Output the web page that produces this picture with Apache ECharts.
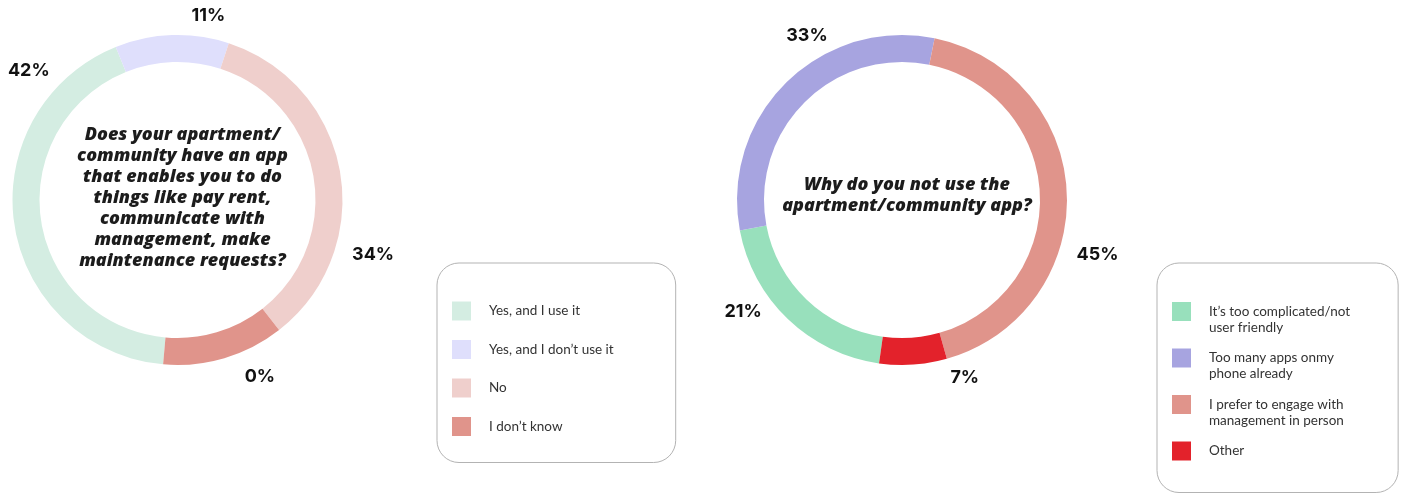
<!DOCTYPE html>
<html>
<head>
<meta charset="utf-8">
<title>Apartment community app survey</title>
<script src="https://cdn.jsdelivr.net/npm/echarts@6/dist/echarts.min.js"></script>
<style>
  html, body { margin: 0; padding: 0; background: #ffffff; }
  #chart { width: 1402px; height: 494px; }
</style>
</head>
<body>
<div id="chart"></div>
<script>
// ---- Survey data ----
const haveAppQuestion = 'Does your apartment/\ncommunity have an app\nthat enables you to do\nthings like pay rent,\ncommunicate with\nmanagement, make\nmaintenance requests?';
const haveAppCategories = ['Yes, and I use it', 'Yes, and I don\u2019t use it', 'No', 'I don\u2019t know'];
const haveAppValues = [42, 11, 34, 0];

const whyNotQuestion = 'Why do you not use the\napartment/community app?';
const whyNotCategories = ['It\u2019s too complicated/not user friendly', 'Too many apps onmy phone already', 'I prefer to engage with management in person', 'Other'];
const whyNotLegendLines = [
  ['It\u2019s too complicated/not', 'user friendly'],
  ['Too many apps onmy', 'phone already'],
  ['I prefer to engage with', 'management in person'],
  ['Other']
];
const whyNotValues = [21, 33, 45, 7];

// ---- Styling ----
const haveAppColors = ['#d4ede2', '#dfdffc', '#efcfcc', '#e0948b'];
const whyNotColors = ['#98e0bc', '#a7a4e0', '#e0948b', '#e3222b'];

const leftCenter = [177.5, 200];
const rightCenter = [902, 200];
const ringRadius = [138, 165];

// label placement around each ring, per data item:
// [angle clockwise from 12 o'clock, distance from centre]
const leftLabelPlacement = [[311, 197], [9.5, 187], [105.5, 203], [155, 195]];
const rightLabelPlacement = [[235, 194], [330, 190], [105.6, 203], [160.5, 188]];

const chart = echarts.init(document.getElementById('chart'), null, { renderer: 'canvas' });

function placeLabels(center, placement) {
  return function (params) {
    const p = placement[params.dataIndex];
    const a = p[0] * Math.PI / 180;
    return {
      x: center[0] + p[1] * Math.sin(a),
      y: center[1] - p[1] * Math.cos(a),
      align: 'center',
      verticalAlign: 'middle'
    };
  };
}

// legend text: the first line sits level with the swatch, the rest hang below it
function hangingLegendText(name) {
  const lines = whyNotLegendLines[whyNotCategories.indexOf(name)];
  return '\n' + lines.join('\n') + (lines.length === 1 ? '\n' : '');
}

const pctLabel = {
  show: true,
  position: 'outside',
  formatter: '{c}%',
  fontFamily: 'Inter',
  fontWeight: 700,
  fontSize: 18,
  color: '#111111'
};

const questionStyle = {
  fontFamily: 'Open Sans',
  fontStyle: 'italic',
  fontWeight: 800,
  fontSize: 18,
  lineHeight: 21,
  color: '#1c1c1c'
};

const legendBase = {
  orient: 'vertical',
  icon: 'rect',
  itemWidth: 19,
  itemHeight: 19,
  selectedMode: false,
  borderColor: '#b3b3b3',
  borderWidth: 1,
  borderRadius: 22,
  backgroundColor: '#ffffff'
};

const option = {
  backgroundColor: '#ffffff',
  animation: false,
  title: [
    {
      text: haveAppQuestion,
      left: leftCenter[0],
      top: 192.5,
      textAlign: 'center',
      textVerticalAlign: 'middle',
      textStyle: questionStyle
    },
    {
      text: whyNotQuestion,
      left: rightCenter[0],
      top: 190.5,
      textAlign: 'center',
      textVerticalAlign: 'middle',
      textStyle: questionStyle
    }
  ],
  legend: [
    Object.assign({}, legendBase, {
      left: 437,
      top: 263,
      itemGap: 19.5,
      padding: [38.5, 62, 26.5, 15],
      data: haveAppCategories,
      textStyle: { fontFamily: 'Lato', fontSize: 13.5, color: '#333333', padding: [0, 0, 0, 13] }
    }),
    Object.assign({}, legendBase, {
      left: 1157,
      top: 263,
      itemGap: -1.5,
      padding: [24.5, 48, 17.5, 15],
      data: whyNotCategories,
      formatter: hangingLegendText,
      textStyle: { fontFamily: 'Lato', fontSize: 13.5, lineHeight: 16, color: '#333333', padding: [0, 0, 0, 13] }
    })
  ],
  series: [
    {
      name: 'Has app',
      type: 'pie',
      center: leftCenter,
      radius: ringRadius,
      startAngle: 265,
      clockwise: true,
      minAngle: 43,
      avoidLabelOverlap: false,
      silent: true,
      label: pctLabel,
      labelLine: { show: false },
      labelLayout: placeLabels(leftCenter, leftLabelPlacement),
      data: haveAppCategories.map(function (n, i) {
        return { name: n, value: haveAppValues[i], itemStyle: { color: haveAppColors[i] } };
      })
    },
    {
      name: 'Why not',
      type: 'pie',
      center: rightCenter,
      radius: ringRadius,
      startAngle: 262,
      clockwise: true,
      avoidLabelOverlap: false,
      silent: true,
      label: pctLabel,
      labelLine: { show: false },
      labelLayout: placeLabels(rightCenter, rightLabelPlacement),
      data: whyNotCategories.map(function (n, i) {
        return { name: n, value: whyNotValues[i], itemStyle: { color: whyNotColors[i] } };
      })
    }
  ]
};

chart.setOption(option);
</script>
</body>
</html>
